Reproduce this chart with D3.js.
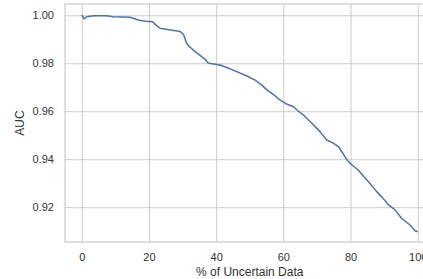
<!DOCTYPE html>
<meta charset="utf-8">
<style>
  body { margin: 0; background: #fff; }
  svg { display: block; font-family: "Liberation Sans", Arial, sans-serif; }
</style>
<svg width="423" height="279"></svg>
<script src="https://cdn.jsdelivr.net/npm/d3@7"></script>
<script>

// % of uncertain data removed
var pct = [0, 0.7, 1.5, 3.5, 7.4, 9.4, 14.4, 16.8, 19, 21.1, 22, 23.3, 26, 29.3, 30.3,
  31.2, 32, 33.2, 34.3, 35.7, 36.8, 37.7, 41.2, 43.5, 46.1, 49, 51.6, 53.5, 55.1,
  57.2, 59.05, 61, 63, 64.5, 66, 68.5, 70.9, 72.9, 74.5, 76.4, 78.9, 80.5, 82.3,
  83.8, 85.3, 87.8, 89.5, 91.3, 93.2, 95.2, 97.7, 99.2, 100];
// AUC at each point
var auc = [1.0002, 0.9985, 0.9994, 0.9998, 0.9998, 0.9994, 0.9992, 0.998, 0.9975,
  0.9973, 0.996, 0.9946, 0.994, 0.9932, 0.992, 0.9883, 0.987, 0.9855, 0.9842, 0.9828,
  0.9815, 0.98, 0.9793, 0.978, 0.9765, 0.9748, 0.973, 0.971, 0.9689, 0.9668, 0.9646,
  0.963, 0.9619, 0.96, 0.9584, 0.955, 0.9515, 0.948, 0.947, 0.9453, 0.9398, 0.9375,
  0.9355, 0.933, 0.9307, 0.9265, 0.924, 0.921, 0.919, 0.9154, 0.9126, 0.9102, 0.9098];

var xTicks = [0, 20, 40, 60, 80, 100];
var yTicks = [0.92, 0.94, 0.96, 0.98, 1.00];

var svg = d3.select("svg");
var pl = 65, pt = 4, pr = 434.5, pb = 242;   // plot box (right edge runs off the canvas)

var x = d3.scaleLinear().domain([-5, 105]).range([pl, pr]);
var y = d3.scaleLinear().domain([0.9055, 1.0047]).range([pb, pt]);

// grid + tick labels
var gx = svg.append("g")
    .attr("transform", "translate(0," + pb + ")")
    .call(d3.axisBottom(x).tickValues(xTicks).tickFormat(d3.format("d"))
      .tickSize(-(pb - pt)).tickPadding(11));

var gy = svg.append("g")
    .attr("transform", "translate(" + pl + ",0)")
    .call(d3.axisLeft(y).tickValues(yTicks).tickFormat(d3.format(".2f"))
      .tickSize(-(pr - pl)).tickPadding(11));

[gx, gy].forEach(function(g) {
  g.select(".domain").remove();
  g.selectAll(".tick line").attr("stroke", "#cccccc").attr("stroke-width", 1);
  g.selectAll(".tick text").attr("fill", "#333").style("font-size", "11px")
    .style("font-family", "'Liberation Sans', Arial, sans-serif");
});

// spines
svg.append("rect")
    .attr("x", pl).attr("y", pt)
    .attr("width", pr - pl).attr("height", pb - pt)
    .attr("fill", "none").attr("stroke", "#cccccc").attr("stroke-width", 1.25);

var line = d3.line()
    .x(function(d, i) { return x(pct[i]); })
    .y(function(d) { return y(d); });

svg.append("path")
    .datum(auc)
    .attr("d", line)
    .attr("fill", "none")
    .attr("stroke", "#4c72b0")
    .attr("stroke-width", 1.5)
    .attr("stroke-linejoin", "round");

svg.append("text")
    .attr("x", (pl + pr) / 2).attr("y", 275.5)
    .attr("text-anchor", "middle")
    .attr("fill", "#333").style("font-size", "12px")
    .text("% of Uncertain Data");

svg.append("text")
    .attr("transform", "translate(23.5," + ((pt + pb) / 2) + ") rotate(-90)")
    .attr("text-anchor", "middle")
    .attr("fill", "#333").style("font-size", "12px")
    .text("AUC");

</script>
